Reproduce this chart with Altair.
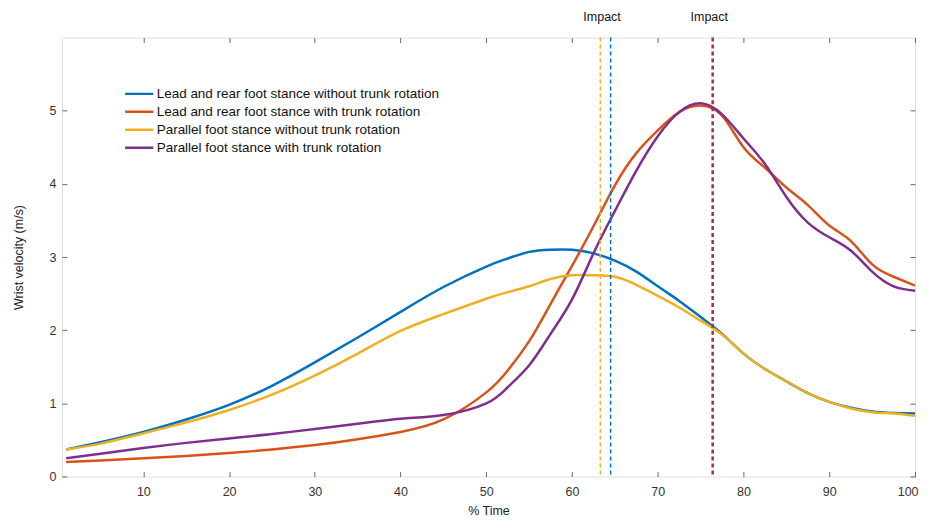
import altair as alt
import pandas as pd

# ---- data ----
x_pts = [1, 5, 10, 15, 20, 25, 30, 35, 40, 45, 50, 52.5, 55, 57.5, 60, 62.5, 65,
         67.5, 70, 72.5, 75, 77.5, 80, 82.5, 85, 87.5, 90, 92.5, 95, 97.5, 100]

lead_rear_without = [0.37, 0.47, 0.61, 0.78, 0.98, 1.24, 1.56, 1.90, 2.25, 2.59, 2.87, 2.98,
                     3.07, 3.10, 3.10, 3.05, 2.95, 2.80, 2.60, 2.40, 2.18, 1.95, 1.68, 1.47,
                     1.30, 1.14, 1.02, 0.94, 0.89, 0.87, 0.86]
lead_rear_with = [0.20, 0.22, 0.25, 0.28, 0.32, 0.37, 0.43, 0.51, 0.61, 0.78, 1.15, 1.45,
                  1.85, 2.36, 2.88, 3.42, 3.98, 4.42, 4.73, 4.98, 5.07, 4.93, 4.50, 4.22,
                  3.95, 3.71, 3.43, 3.22, 2.90, 2.73, 2.61]
parallel_without = [0.37, 0.45, 0.59, 0.74, 0.91, 1.12, 1.38, 1.68, 1.99, 2.22, 2.43, 2.52,
                    2.60, 2.70, 2.75, 2.75, 2.73, 2.62, 2.47, 2.31, 2.13, 1.94, 1.68, 1.47,
                    1.30, 1.14, 1.02, 0.93, 0.88, 0.86, 0.83]
parallel_with = [0.25, 0.31, 0.39, 0.46, 0.52, 0.58, 0.65, 0.72, 0.79, 0.84, 1.00, 1.22,
                 1.52, 1.95, 2.42, 3.05, 3.63, 4.18, 4.65, 4.98, 5.10, 4.95, 4.62, 4.27,
                 3.82, 3.47, 3.27, 3.09, 2.80, 2.60, 2.54]

series_names = [
    "Lead and rear foot stance without trunk rotation",
    "Lead and rear foot stance with trunk rotation",
    "Parallel foot stance without trunk rotation",
    "Parallel foot stance with trunk rotation",
]
series_colors = ["#0072BD", "#D95319", "#EDB120", "#7E2F8E"]
series_values = [lead_rear_without, lead_rear_with, parallel_without, parallel_with]

impact_x = [63.3, 64.5, 76.4]
impact_colors = ["#EDB120", "#0072BD", "#9E2F4E"]
impact_widths = [1.5, 1.5, 2.5]
impact_label_x = [63.5, 76.0]
impact_label_text = ["Impact", "Impact"]

x_ticks = [10, 20, 30, 40, 50, 60, 70, 80, 90, 100]
y_ticks = [0, 1, 2, 3, 4, 5]

# ---- tables ----
rows = []
for name, vals in zip(series_names, series_values):
    for order, (xv, yv) in enumerate(zip(x_pts, vals)):
        rows.append({"series": name, "t": xv, "v": yv, "o": order})
df = pd.DataFrame(rows)
imp = pd.DataFrame({"t": impact_x, "c": impact_colors, "w": impact_widths})
lab = pd.DataFrame({"t": impact_label_x, "txt": impact_label_text})
ytk = pd.DataFrame({"v": y_ticks})

FONT = "Liberation Sans"
xs = alt.Scale(domain=[0.5, 100], nice=False, zero=False)
ys = alt.Scale(domain=[0, 6], nice=False)

common_axis = dict(domain=False, tickColor="#666666", tickSize=5, offset=-5,
                   labelFont=FONT, labelFontSize=12.5, labelColor="#333333",
                   titleFont=FONT, titleFontSize=12.5, titleColor="#222222",
                   titleFontWeight="normal", grid=False)

lines = alt.Chart(df).mark_line(strokeWidth=2.5, interpolate="natural").encode(
    x=alt.X("t:Q", scale=xs,
            axis=alt.Axis(title="% Time", values=x_ticks, labelPadding=9,
                          titlePadding=7, labelFlush=True, labelFlushOffset=3,
                          **common_axis)),
    y=alt.Y("v:Q", scale=ys,
            axis=alt.Axis(title="Wrist velocity (m/s)", values=y_ticks,
                          labelPadding=6, titlePadding=24, **common_axis)),
    color=alt.Color("series:N",
                    scale=alt.Scale(domain=series_names, range=series_colors),
                    legend=alt.Legend(title=None, orient="none", legendX=62, legendY=47.5,
                                      symbolType="stroke", symbolStrokeWidth=2.5,
                                      symbolSize=800, labelFont=FONT, labelFontSize=13.5,
                                      labelColor="#111111", rowPadding=0, clipHeight=18,
                                      labelOffset=2, padding=0, labelLimit=0)),
    order="o:Q",
)

rules = alt.Chart(imp).mark_rule(strokeDash=[4, 3]).encode(
    x=alt.X("t:Q", scale=xs,
            axis=alt.Axis(orient="top", labels=False, title=None, values=x_ticks,
                          **common_axis)),
    color=alt.Color("c:N", scale=None),
    strokeWidth=alt.StrokeWidth("w:Q", scale=None),
)

right_axis = alt.Chart(ytk).mark_tick(opacity=0).encode(
    y=alt.Y("v:Q", scale=ys,
            axis=alt.Axis(orient="right", labels=False, title=None, values=y_ticks,
                          **common_axis)),
)

labels = alt.Chart(lab).mark_text(font=FONT, fontSize=12.5, color="#111111",
                                  baseline="middle").encode(
    x=alt.X("t:Q", scale=xs, axis=None),
    y=alt.value(-21),
    text="txt:N",
)

chart = alt.layer(lines, rules, right_axis, labels).resolve_axis(
    x="independent", y="independent"
).properties(
    width=855, height=440,
    padding={"left": 4, "top": 2, "right": 0, "bottom": 2},
).configure_view(stroke="#808080", strokeWidth=1).configure(background="white")

chart.save("out.html", embed_options={"renderer": "svg", "actions": False})
